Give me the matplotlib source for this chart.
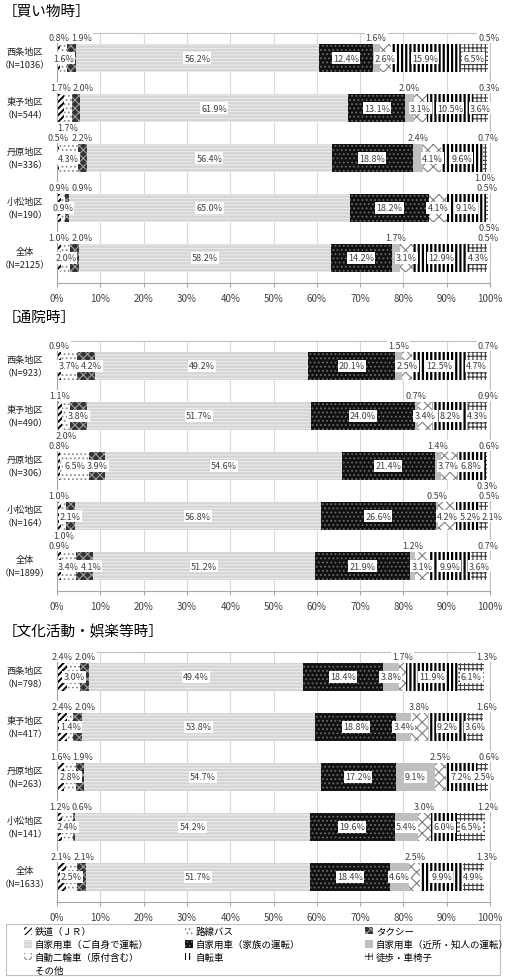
import numpy as np
import matplotlib.pyplot as plt
from matplotlib.patches import Patch, Rectangle
from matplotlib.transforms import blended_transform_factory

plt.rcParams['font.family'] = ['Noto Sans CJK JP', 'DejaVu Sans']
plt.rcParams['hatch.linewidth'] = 0.8

# 交通手段
modes = ['鉄道（ＪＲ）', '路線バス', 'タクシー',
         '自家用車（ご自身で運転）', '自家用車（家族の運転）', '自家用車（近所・知人の運転）',
         '自動二輪車（原付含む）', '自転車', '徒歩・車椅子', 'その他']
areas = ['西条地区', '東予地区', '丹原地区', '小松地区', '全体']
titles = ['［買い物時］', '［通院時］', '［文化活動・娯楽等時］']

# 買い物時
n_shop = [1036, 544, 336, 190, 2125]
shop = [[0.8, 1.6, 1.9, 56.2, 12.4, 1.6, 2.6, 15.9, 6.5, 0.5],
        [1.7, 1.7, 2.0, 61.9, 13.1, 2.0, 3.1, 10.5, 3.6, 0.3],
        [0.5, 4.3, 2.2, 56.4, 18.8, 2.4, 4.1, 9.6, 1.0, 0.7],
        [0.9, 0.9, 0.9, 65.0, 18.2, 0.0, 4.1, 9.1, 0.5, 0.5],
        [1.0, 2.0, 2.0, 58.2, 14.2, 1.7, 3.1, 12.9, 4.3, 0.5]]

# 通院時
n_clinic = [923, 490, 306, 164, 1899]
clinic = [[0.9, 3.7, 4.2, 49.2, 20.1, 1.5, 2.5, 12.5, 4.7, 0.7],
          [1.1, 2.0, 3.8, 51.7, 24.0, 0.7, 3.4, 8.2, 4.3, 0.9],
          [0.8, 6.5, 3.9, 54.6, 21.4, 1.4, 3.7, 6.8, 0.3, 0.6],
          [1.0, 1.0, 2.1, 56.8, 26.6, 0.5, 4.2, 5.2, 2.1, 0.5],
          [0.9, 3.4, 4.1, 51.2, 21.9, 1.2, 3.1, 9.9, 3.6, 0.7]]

# 文化活動・娯楽等時
n_culture = [798, 417, 263, 141, 1633]
culture = [[2.4, 3.0, 2.0, 49.4, 18.4, 3.8, 1.7, 11.9, 6.1, 1.3],
           [2.4, 1.4, 2.0, 53.8, 18.8, 3.4, 3.8, 9.2, 3.6, 1.6],
           [1.6, 2.8, 1.9, 54.7, 17.2, 9.1, 2.5, 7.2, 2.5, 0.6],
           [1.2, 2.4, 0.6, 54.2, 19.6, 5.4, 3.0, 6.0, 6.5, 1.2],
           [2.1, 2.5, 2.1, 51.7, 18.4, 4.6, 2.5, 9.9, 4.9, 1.3]]

# ラベル位置 a=上 b=下 c=中央 -=なし
pos_shop = ['acaccaccca', 'abaccaccca', 'acaccaccba', 'acacc-ccab', 'acaccaccca']
pos_clinic = ['accccaccca', 'abcccaccca', 'accccaccba', 'abcccaccca', 'accccaccca']
pos_culture = ['acacccacca'] * 5

# 模様
faces = ['white', 'white', '#333333', '#d4d4d4', '#111111', '#bfbfbf', 'white', 'white', 'white', 'white']
hcols = ['black', '#8c8c8c', '#a0a0a0', '#ececec', '#6a6a6a', '#bfbfbf', '#7f7f7f', 'black', '#404040', '#bfbfbf']
hatches = ['/////', '....', 'xxxx', '-----', '....', None, 'xxx', '||||', '++++', None]
hlw = [1.4, 0.8, 0.8, 0.8, 0.8, 0.8, 0.8, 1.6, 0.8, 0.8]

W, H = 508, 978
fig = plt.figure(figsize=(W / 100, H / 100), dpi=100)

panels = [(shop, n_shop, pos_shop, 34, 12),
          (clinic, n_clinic, pos_clinic, 342, 318),
          (culture, n_culture, pos_culture, 653, 632)]


def lab_w(s):
    # ラベル幅（％単位の概算）
    return (len(s) * 4.7 + 3) / 4.33


def place(ax, items, yy, box):
    prev_r = -99
    for cx, s in sorted(items):
        w = lab_w(s)
        x = max(cx, prev_r + w / 2 + 0.2)
        prev_r = x + w / 2
        ax.text(x, yy, s, ha='center', va='center', fontsize=6.5,
                color='#404040', bbox=box, zorder=4)


def hatch_lw(patches, lw):
    for p in patches:
        if hasattr(p, 'set_hatch_linewidth'):
            p.set_hatch_linewidth(lw)


bar_h = 0.56
for (data, ns, poss, top, ty), title in zip(panels, titles):
    ax = fig.add_axes([57 / W, 1 - (top + 250) / H, 433 / W, 250 / H])
    vals = np.array(data)
    lefts = np.cumsum(vals, axis=1) - vals
    y = np.arange(len(areas))
    for j in range(len(modes)):
        bars = ax.barh(y, vals[:, j], left=lefts[:, j], height=bar_h, color=faces[j],
                       edgecolor=hcols[j], hatch=hatches[j], linewidth=0, zorder=2)
        hatch_lw(bars, hlw[j])
    ax.set_xlim(0, 100)
    ax.set_ylim(len(areas) - 0.5, -0.5)
    ax.set_xticks(range(0, 101, 10))
    ax.set_xticklabels([f'{t}%' for t in range(0, 101, 10)])
    ax.set_yticks([])
    ax.tick_params(axis='x', length=3, color='#a6a6a6', labelsize=7, labelcolor='#404040', pad=4)
    ax.grid(axis='x', color='#d9d9d9', lw=0.8)
    ax.set_axisbelow(True)
    for s in ax.spines.values():
        s.set_color('#bfbfbf')
        s.set_linewidth(0.8)
    ax.spines['left'].set_color('#a6a6a6')
    ax.spines['bottom'].set_color('#a6a6a6')

    box = dict(boxstyle='square,pad=0.12', fc='white', ec='none')
    for i in range(len(areas)):
        rows = {'a': [], 'b': [], 'c': []}
        for j, p in enumerate(poss[i]):
            v = vals[i, j]
            if p in rows:
                rows[p].append((lefts[i, j] + v / 2, f'{v:.1f}%'))
        place(ax, rows['c'], i, box)
        place(ax, rows['a'], i - bar_h / 2 - 0.13, box)
        place(ax, rows['b'], i + bar_h / 2 + 0.11, box)

    trans = blended_transform_factory(fig.transFigure, ax.transData)
    for i, (a, n) in enumerate(zip(areas, ns)):
        ax.text(25 / W, i, f'{a}\n（N={n}）', transform=trans, ha='center', va='center',
                fontsize=6.6, linespacing=1.5, color='#262626')

    fig.text(3 / W, 1 - ty / H, title, ha='left', va='center', fontsize=10.5)

# 凡例（3列を個別に配置）
handles = [Patch(facecolor=faces[j], edgecolor=hcols[j], hatch=hatches[j], linewidth=0)
           for j in range(len(modes))]
cols = [[0, 3, 6, 9], [1, 4, 7], [2, 5, 8]]
col_x = [24, 185, 365]
for idx, cx in zip(cols, col_x):
    leg = fig.legend([handles[k] for k in idx], [modes[k] for k in idx],
                     loc='upper left', bbox_to_anchor=(cx / W, 1 - 928 / H),
                     fontsize=6.8, handlelength=0.8, handleheight=0.8,
                     handletextpad=0.35, labelspacing=0.38, borderpad=0, borderaxespad=0,
                     frameon=False)
    hatch_lw(leg.get_patches(), 0.8)
fig.patches.append(Rectangle((6 / W, 2 / H), 494 / W, 51 / H, transform=fig.transFigure,
                             fill=False, ec='#bfbfbf', lw=0.8))

fig.savefig('out.png', dpi=100)
